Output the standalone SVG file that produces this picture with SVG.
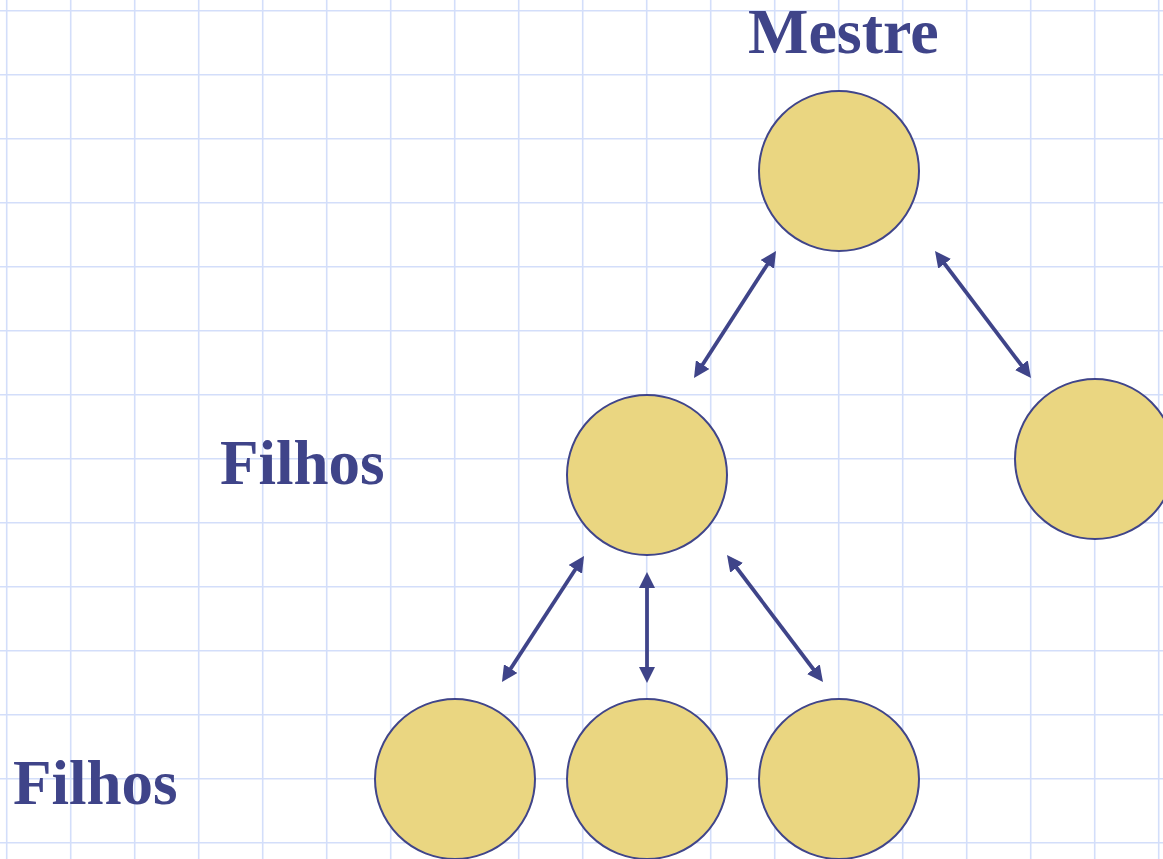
<svg xmlns="http://www.w3.org/2000/svg" width="1163" height="859" viewBox="0 0 1163 859">
  <style>
    .grid { stroke: #D3DEFA; stroke-width: 1.6; fill: none; }
    .node { fill: #EAD681; stroke: #40458A; stroke-width: 2; }
    .label { font-family: "Liberation Serif", "Times New Roman", serif; font-weight: bold; font-size: 63px; fill: #3F4489; }
    .title { font-size: 64px; }
    .link { stroke: #3F4489; stroke-width: 3.8; fill: none; marker-start: url(#head); marker-end: url(#head); }
  </style>
  <defs>
    <marker id="head" markerUnits="userSpaceOnUse" markerWidth="17" markerHeight="16" refX="11" refY="8" orient="auto-start-reverse">
      <path d="M0,0 L16,8 L0,16 Z" fill="#3F4489"/>
    </marker>
  </defs>

  <rect width="1163" height="859" fill="#FFFFFF"/>

  <!-- squared paper background -->
  <path class="grid" d="
    M6.7,0V859 M70.7,0V859 M134.7,0V859 M198.7,0V859 M262.7,0V859 M326.7,0V859 M390.7,0V859
    M454.7,0V859 M518.7,0V859 M582.7,0V859 M646.7,0V859 M710.7,0V859 M774.7,0V859 M838.7,0V859
    M902.7,0V859 M966.7,0V859 M1030.7,0V859 M1094.7,0V859 M1158.7,0V859
    M0,10.7H1163 M0,74.7H1163 M0,138.7H1163 M0,202.7H1163 M0,266.7H1163 M0,330.7H1163 M0,394.7H1163
    M0,458.7H1163 M0,522.7H1163 M0,586.7H1163 M0,650.7H1163 M0,714.7H1163 M0,778.7H1163 M0,842.7H1163"/>

  <!-- labels -->
  <text class="label title" x="748" y="53">Mestre</text>
  <text class="label" x="220" y="484">Filhos</text>
  <text class="label" x="13" y="804">Filhos</text>

  <!-- connectors -->
  <g id="connectors">
    <line class="link" x1="696.7" y1="373.8" x2="773.3" y2="255.2"/>
    <line class="link" x1="938.0" y1="255.0" x2="1028.0" y2="374.0"/>
    <line class="link" x1="581.3" y1="560.2" x2="504.7" y2="677.8"/>
    <line class="link" x1="647" y1="577" x2="647" y2="678"/>
    <line class="link" x1="730.0" y1="559.0" x2="820.0" y2="678.0"/>
  </g>

  <!-- nodes -->
  <g id="master"><circle class="node" cx="839" cy="171" r="80"/></g>
  <g id="child-left"><circle class="node" cx="647" cy="475" r="80"/></g>
  <g id="child-right"><circle class="node" cx="1095" cy="459" r="80"/></g>
  <g id="grandchild-1"><circle class="node" cx="455" cy="779" r="80"/></g>
  <g id="grandchild-2"><circle class="node" cx="647" cy="779" r="80"/></g>
  <g id="grandchild-3"><circle class="node" cx="839" cy="779" r="80"/></g>
</svg>
